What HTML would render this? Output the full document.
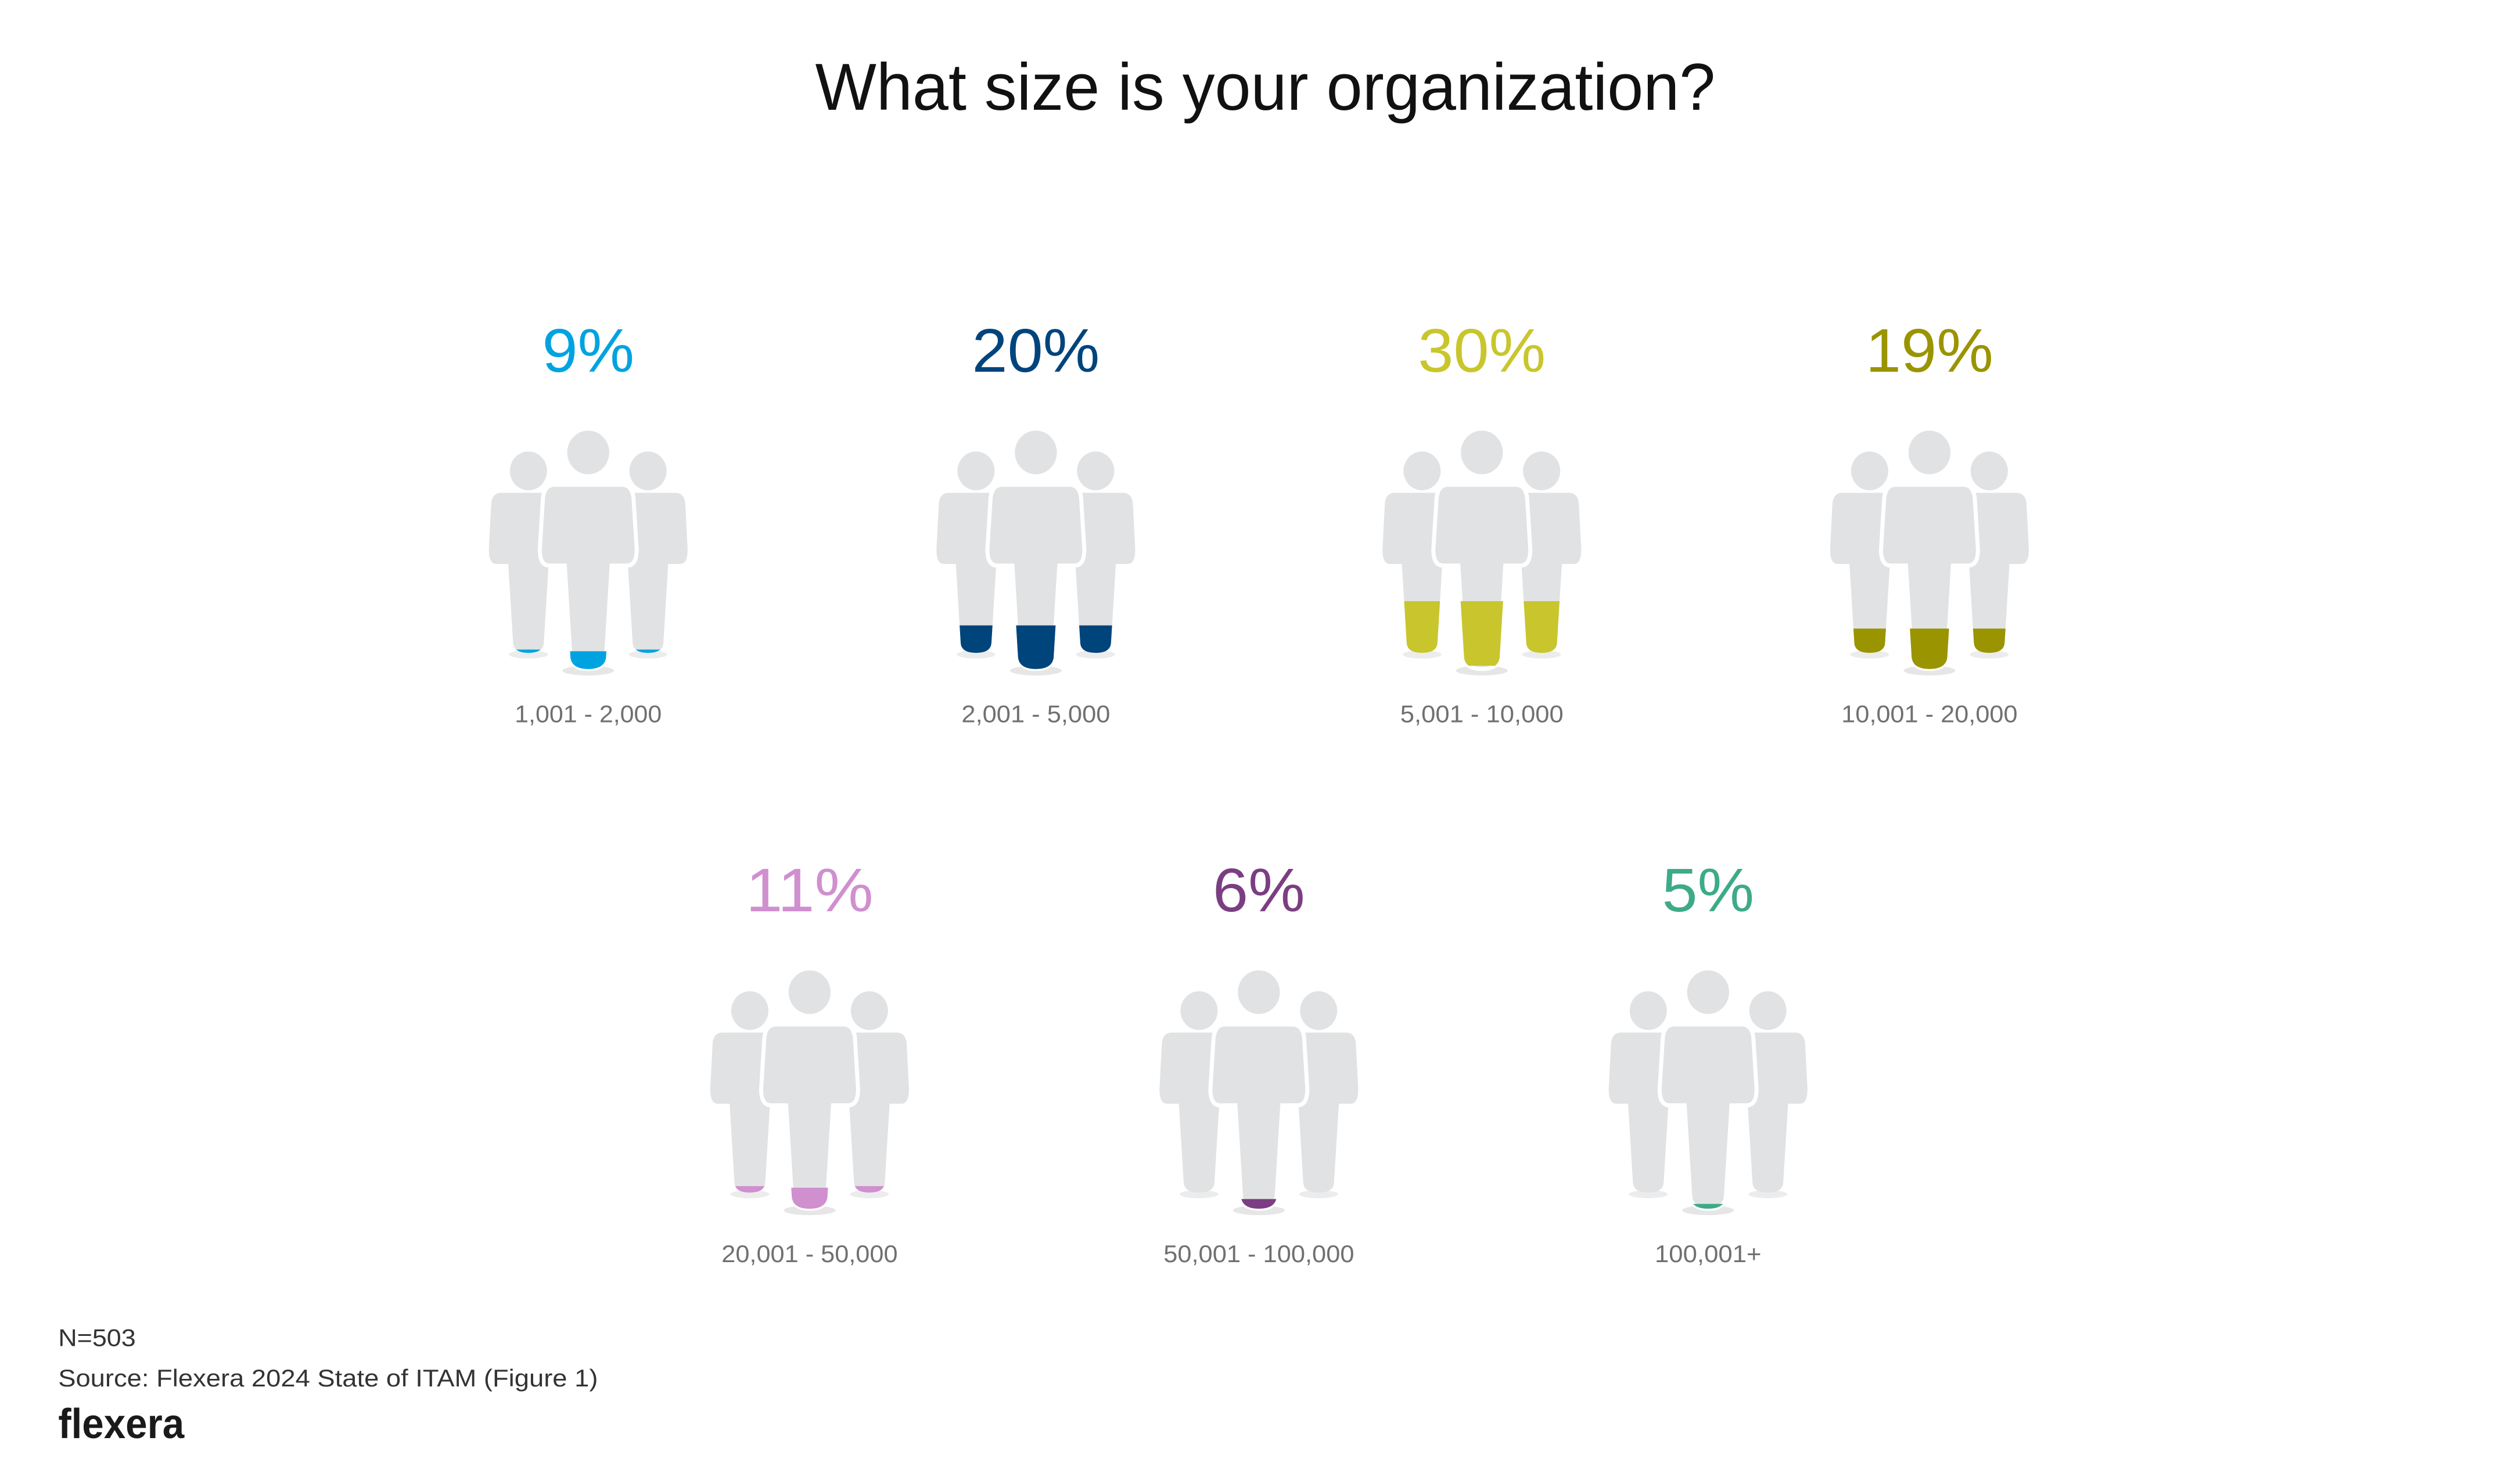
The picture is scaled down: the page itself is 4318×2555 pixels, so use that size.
<!DOCTYPE html>
<html><head><meta charset="utf-8"><style>
html,body{margin:0;padding:0;background:#fff;}
svg{display:block;}
text{font-family:"Liberation Sans",sans-serif;}
</style></head><body>
<svg id="s" width="4318" height="2555" viewBox="0 0 1552 918.35" xmlns="http://www.w3.org/2000/svg">
<rect width="1552" height="918.35" fill="#fff"/>
<text x="783" y="68" text-anchor="middle" font-size="41" fill="#111" textLength="557" lengthAdjust="spacingAndGlyphs">What size is your organization?</text>
<text x="36" y="833" font-size="15" fill="#333" textLength="48" lengthAdjust="spacingAndGlyphs">N=503</text>
<text x="36" y="858" font-size="15" fill="#333" textLength="334" lengthAdjust="spacingAndGlyphs">Source: Flexera 2024 State of ITAM (Figure 1)</text>
<text x="36" y="890" font-size="26" font-weight="bold" fill="#1a1a1a" textLength="78" lengthAdjust="spacingAndGlyphs">flexera</text>
<g id="g"></g>
</svg>
<script>
var data=[
[364,280,"9%","#00a3e0","1,001 - 2,000",123,122,91],
[641,280,"20%","#00447c","2,001 - 5,000",107,107,92],
[917,280,"30%","#c8c62c","5,001 - 10,000",92,92,101],
[1194,280,"19%","#9a9400","10,001 - 20,000",109,109,109],
[501,614,"11%","#d08fcf","20,001 - 50,000",121,120,109],
[779,614,"6%","#7b3e82","50,001 - 100,000",128,200,118],
[1057,614,"5%","#3daa88","100,001+",131,200,66]
];
function side(sx){
return "M"+(sx-17)+",25 H"+(sx+17)+" Q"+(sx+22)+",25 "+(sx+23)+",31 L"+(sx+24.5)+",60 Q"+(sx+24.5)+",69 "+(sx+20)+",69 L"+(sx+12.5)+",69 L"+(sx+9.5)+",118 Q"+(sx+9)+",124 "+sx+",124 Q"+(sx-9)+",124 "+(sx-9.5)+",118 L"+(sx-12.5)+",69 L"+(sx-20)+",69 Q"+(sx-24.5)+",69 "+(sx-24.5)+",60 L"+(sx-23)+",31 Q"+(sx-22)+",25 "+(sx-17)+",25 Z";
}
var center="M-21,20 H21 Q27,20 28,28 L30,60 Q30,70 24,70 L14.5,70 L11,127 Q10,134 0,134 Q-10,134 -11,127 L-14.5,70 L-24,70 Q-30,70 -30,60 L-28,28 Q-27,20 -21,20 Z";
var h="",i=0;
data.forEach(function(d){
 var cx=d[0],cy=d[1];i++;
 h+='<text x="'+cx+'" y="'+(cy-50)+'" text-anchor="middle" font-size="38" fill="'+d[3]+'" textLength="'+(d[2].length==2?57:79)+'" lengthAdjust="spacingAndGlyphs">'+d[2]+'</text>';
 h+='<g transform="translate('+cx+','+cy+')">';
 h+='<ellipse cx="0" cy="135" rx="16" ry="3" fill="#e6e6e6"/>';
 h+='<ellipse cx="-37" cy="125" rx="12" ry="2.5" fill="#ececec"/><ellipse cx="37" cy="125" rx="12" ry="2.5" fill="#ececec"/>';
 h+='<clipPath id="cs'+i+'"><rect x="-60" y="'+d[6]+'" width="120" height="40"/></clipPath>';
 h+='<clipPath id="cc'+i+'"><rect x="-60" y="'+d[5]+'" width="120" height="40"/></clipPath>';
 [-37,37].forEach(function(sx){
  h+='<ellipse cx="'+sx+'" cy="11.4" rx="11.5" ry="12" fill="#e1e2e4"/>';
  h+='<path d="'+side(sx)+'" fill="#e1e2e4"/>';
  h+='<path d="'+side(sx)+'" fill="'+d[3]+'" clip-path="url(#cs'+i+')"/>';
 });
 h+='<ellipse cx="0" cy="0" rx="13" ry="13.5" fill="#e1e2e4"/>';
 h+='<path d="'+center+'" fill="#e1e2e4" stroke="#fff" stroke-width="2.5"/>';
 h+='<path d="'+center+'" fill="'+d[3]+'" clip-path="url(#cc'+i+')"/>';
 h+='</g>';
 h+='<text x="'+cx+'" y="'+(cy+167)+'" text-anchor="middle" font-size="15" fill="#707070" textLength="'+d[7]+'" lengthAdjust="spacingAndGlyphs">'+d[4]+'</text>';
});
document.getElementById("g").innerHTML=h;
</script>
</body></html>
